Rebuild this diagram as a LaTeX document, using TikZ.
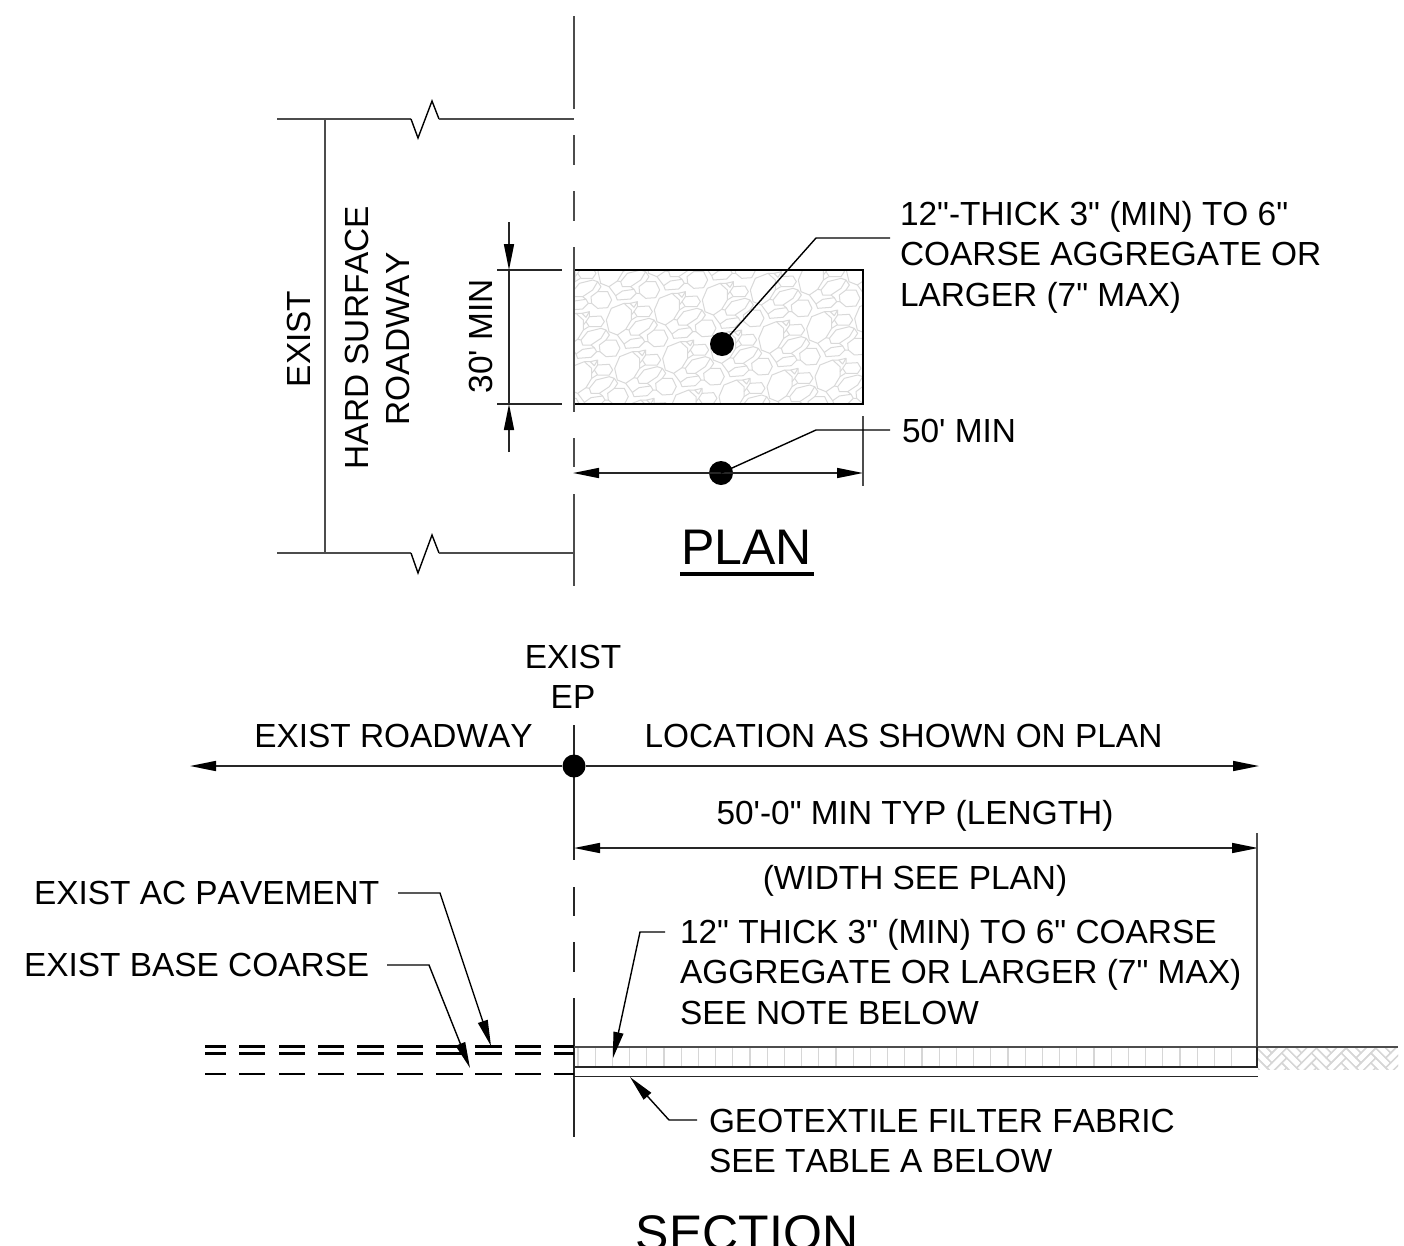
\documentclass[tikz,border=0pt]{standalone}
\usepackage{fontspec}
\setmainfont{Liberation Sans}[Ligatures=TeXOff,Kerning=Off]
\usetikzlibrary{arrows.meta}
\tikzset{
  lab/.style={inner sep=0pt,outer sep=0pt,font=\fontsize{33.4}{40.5}\selectfont,text=black},
  labL/.style={lab,align=left,anchor=west},
  labC/.style={lab,align=center,anchor=center},
  labV/.style={lab,rotate=90,anchor=center},
  title/.style={inner sep=0pt,outer sep=0pt,font=\fontsize{50}{54}\selectfont,text=black,anchor=base},
  thin line/.style={draw=black!70,line width=1.9pt},
  sect line/.style={draw=black!85,line width=1.5pt},
  leader/.style={draw=black,line width=1.4pt},
  dimline/.style={draw=black!85,line width=1.6pt},
  head/.style={-{Triangle[length=26pt,width=10pt,color=black,fill=black]}},
  heads/.style={{Triangle[length=26pt,width=10pt,color=black,fill=black]}-{Triangle[length=26pt,width=10pt,color=black,fill=black]}},
  dot/.style={circle,fill=black,inner sep=0pt,minimum size=24pt},
  stone/.style={draw=black!15,line width=1pt,line join=round},
  hatchline/.style={draw=black!16,line width=1.3pt},
  exist/.style={draw=black,line width=2.6pt},
}
\newcommand{\stonetile}{%
  \draw[stone] (97,150)--(112,115)--(150,100)--(172,120)--(172,150)--(155,178)--(130,195)--(105,185)--cycle;
  \draw[stone] (180,125)--(190,110)--(225,108)--(235,125)--(225,140)--(190,140)--cycle;
  \draw[stone] (165,180)--(185,155)--(225,145)--(240,150)--(225,175)--(195,195)--(170,195)--cycle;
  \draw[stone] (220,195)--(240,180)--(270,180)--(282,205)--(270,228)--(240,230)--(222,215)--cycle;
  \draw[stone] (150,222)--(170,208)--(205,203)--(212,215)--(195,232)--(155,235)--cycle;
  \draw[stone] (168,100)--(190,95)--(180,112)--cycle;
  \draw[stone] (172,135)--(180,125) (172,150)--(188,140) (155,178)--(165,180) (130,195)--(150,222)
    (212,215)--(222,215) (240,150)--(250,165)--(240,180) (205,203)--(195,195) (150,100)--(168,100) (190,95)--(190,110);
}
\begin{document}
\begin{tikzpicture}[x=1pt,y=-1pt]
\clip (0,0) rectangle (1404,1245);
\fill[white] (0,0) rectangle (1404,1245);

% ---------- PLAN ----------
\begin{scope}
  \clip (574,270) rectangle (863,404);
  \foreach \i in {-3,...,7}{\foreach \j in {-3,...,4}{
    \begin{scope}[shift={({619+\i*48+\j*8.33},{320-\i*10+\j*48.33})},scale=0.3333,shift={(-135,-150)}]
      \stonetile
    \end{scope}
  }}
\end{scope}
\draw[draw=black,line width=1.7pt] (574,270) rectangle (863,404);

% centre line
\coordinate (pc1a) at (574,16);  \coordinate (pc1b) at (574,109);
\coordinate (pc2a) at (574,135); \coordinate (pc2b) at (574,165);
\coordinate (pc3a) at (574,191); \coordinate (pc3b) at (574,221);
\coordinate (pc4a) at (574,247); \coordinate (pc4b) at (574,412);
\coordinate (pc5a) at (574,438); \coordinate (pc5b) at (574,467);
\coordinate (pc6a) at (574,494); \coordinate (pc6b) at (574,586);
\draw[thin line] (pc1a)--(pc1b) (pc2a)--(pc2b) (pc3a)--(pc3b) (pc4a)--(pc4b) (pc5a)--(pc5b) (pc6a)--(pc6b);

% roadway edges with break marks
\coordinate (tl) at (277,119); \coordinate (tr) at (574,119);
\coordinate (bl) at (277,553); \coordinate (br) at (574,553);
\draw[thin line,line join=miter] (tl)--(411,119);
\draw[leader,line join=miter] (411,119)--(418,138)--(432,101)--(439,119);
\draw[thin line] (439,119)--(tr);
\draw[thin line] (bl)--(411,553);
\draw[leader,line join=miter] (411,553)--(418,573)--(432,535)--(439,553);
\draw[thin line] (439,553)--(br);
\draw[thin line] (325,119)--(325,553);

% 30' MIN dimension
\coordinate (d1) at (497,270); \coordinate (d1e) at (562,270);
\coordinate (d2) at (497,404); \coordinate (d2e) at (562,404);
\draw[dimline] (d1)--(d1e) (d2)--(d2e);
\coordinate (da) at (509,222); \coordinate (dat) at (509,270);
\coordinate (db) at (509,452); \coordinate (dbt) at (509,404);
\draw[dimline,head] (da)--(dat);
\draw[dimline,head] (db)--(dbt);
\draw[dimline] (dat)--(dbt);

% 50' MIN dimension
\node[dot] (dotA) at (722,344) {};
\node[dot] (dotB) at (721,473) {};
\coordinate (wl) at (573,473); \coordinate (wr) at (863,473);
\draw[dimline,heads] (wl)--(wr);
\draw[thin line] (863,416)--(863,486);
\coordinate (la) at (816,238); \coordinate (lae) at (890,238);
\coordinate (lb) at (816,430); \coordinate (lbe) at (890,430);
\draw[leader] (dotA.center)--(la)--(lae);
\draw[leader] (dotB.center)--(lb)--(lbe);

\node[labV] (t1) at (299,339) {EXIST};
\node[labV] (t2) at (357,337.5) {HARD SURFACE};
\node[labV] (t3) at (398,339) {ROADWAY};
\node[labV] (t4) at (481,336.5) {30' MIN};
\node[labL] (t5) at (900,257) {12"-THICK 3" (MIN) TO 6"\\COARSE AGGREGATE OR\\LARGER (7" MAX)};
\node[labL] (t6) at (902,431) {50' MIN};
\node[title] (plan) at (746.5,564.5) {PLAN};
\draw[draw=black,line width=3.2pt] (680,574)--(814,574);

% ---------- SECTION ----------
\node[labC] (t7) at (573,677) {EXIST\\EP};
\node[lab] (t8) at (393.5,736) {EXIST ROADWAY};
\node[lab] (t9) at (903.5,736) {LOCATION AS SHOWN ON PLAN};
\node[lab] (t10) at (915,815.5) {50'-0" MIN TYP (LENGTH)};
\node[lab] (t11) at (915,880.5) {(WIDTH SEE PLAN)};
\node[lab,anchor=west] (t12) at (34,893) {EXIST AC PAVEMENT};
\node[lab,anchor=west] (t13) at (24,965) {EXIST BASE COARSE};
\node[labL] (t14) at (680,972) {12" THICK 3" (MIN) TO 6" COARSE\\AGGREGATE OR LARGER (7" MAX)\\SEE NOTE BELOW};
\node[labL] (t15) at (709,1141) {GEOTEXTILE FILTER FABRIC\\SEE TABLE A BELOW};
\node[title] (sect) at (747,1250) {SECTION};

% centre line, section
\draw[sect line] (574,725)--(574,860) (574,887)--(574,916) (574,942)--(574,972) (574,998)--(574,1137);

% main arrows
\node[dot,minimum size=23pt] (dotC) at (574,766) {};
\coordinate (al) at (190,766); \coordinate (ar) at (1259,766);
\draw[dimline,head] (dotC)--(al);
\draw[dimline,head] (dotC)--(ar);
\coordinate (bl2) at (574,848); \coordinate (br2) at (1258,848);
\draw[dimline,heads] (bl2)--(br2);
\draw[thin line] (1257,833)--(1257,1047);

% hatch of aggregate
\foreach \k in {0,...,38}{\draw[hatchline] ({578+\k*17.2},1048)--({578+\k*17.2},1066);}
% herringbone ground
\begin{scope}
  \clip (1258,1048) rectangle (1398,1069);
  \begin{scope}[shift={(1257,1048)},rotate=-45]
    \foreach \j in {-2,...,6}{\foreach \i in {-4,...,4}{
      \begin{scope}[shift={({\i*7+\j*21},{\i*7-\j*21})}]
        \draw[hatchline] (0,0) rectangle (21,7);
        \draw[hatchline] (21,7) rectangle (28,-14);
      \end{scope}
    }}
  \end{scope}
\end{scope}

% section layers
\draw[thin line] (574,1047)--(1398,1047);
\draw[sect line] (574,1067)--(1257,1067)--(1257,1047);
\draw[sect line] (574,1076.5)--(1258,1076.5);

% existing pavement dashes
\foreach \y in {1046.7,1053.7,1074}{
  \draw[exist] (205,\y)--(226,\y) (239,\y)--(265,\y) (279,\y)--(305,\y) (318,\y)--(344,\y)
    (357,\y)--(384,\y) (397,\y)--(423,\y) (436,\y)--(463,\y) (475,\y)--(502,\y) (515,\y)--(541,\y) (554,\y)--(574,\y);
}

% leaders with arrows
\coordinate (p1) at (398,893); \coordinate (p1k) at (440,893); \coordinate (p1t) at (491,1046);
\coordinate (p2) at (387,965); \coordinate (p2k) at (429,965); \coordinate (p2t) at (470,1068);
\coordinate (p3) at (665,932); \coordinate (p3k) at (640,932); \coordinate (p3t) at (613,1058);
\coordinate (p4) at (697,1120); \coordinate (p4k) at (669,1120); \coordinate (p4t) at (630,1077);
\draw[leader,head] (p1)--(p1k)--(p1t);
\draw[leader,head] (p2)--(p2k)--(p2t);
\draw[leader,head] (p3)--(p3k)--(p3t);
\draw[leader,head] (p4)--(p4k)--(p4t);
\end{tikzpicture}
\end{document}
